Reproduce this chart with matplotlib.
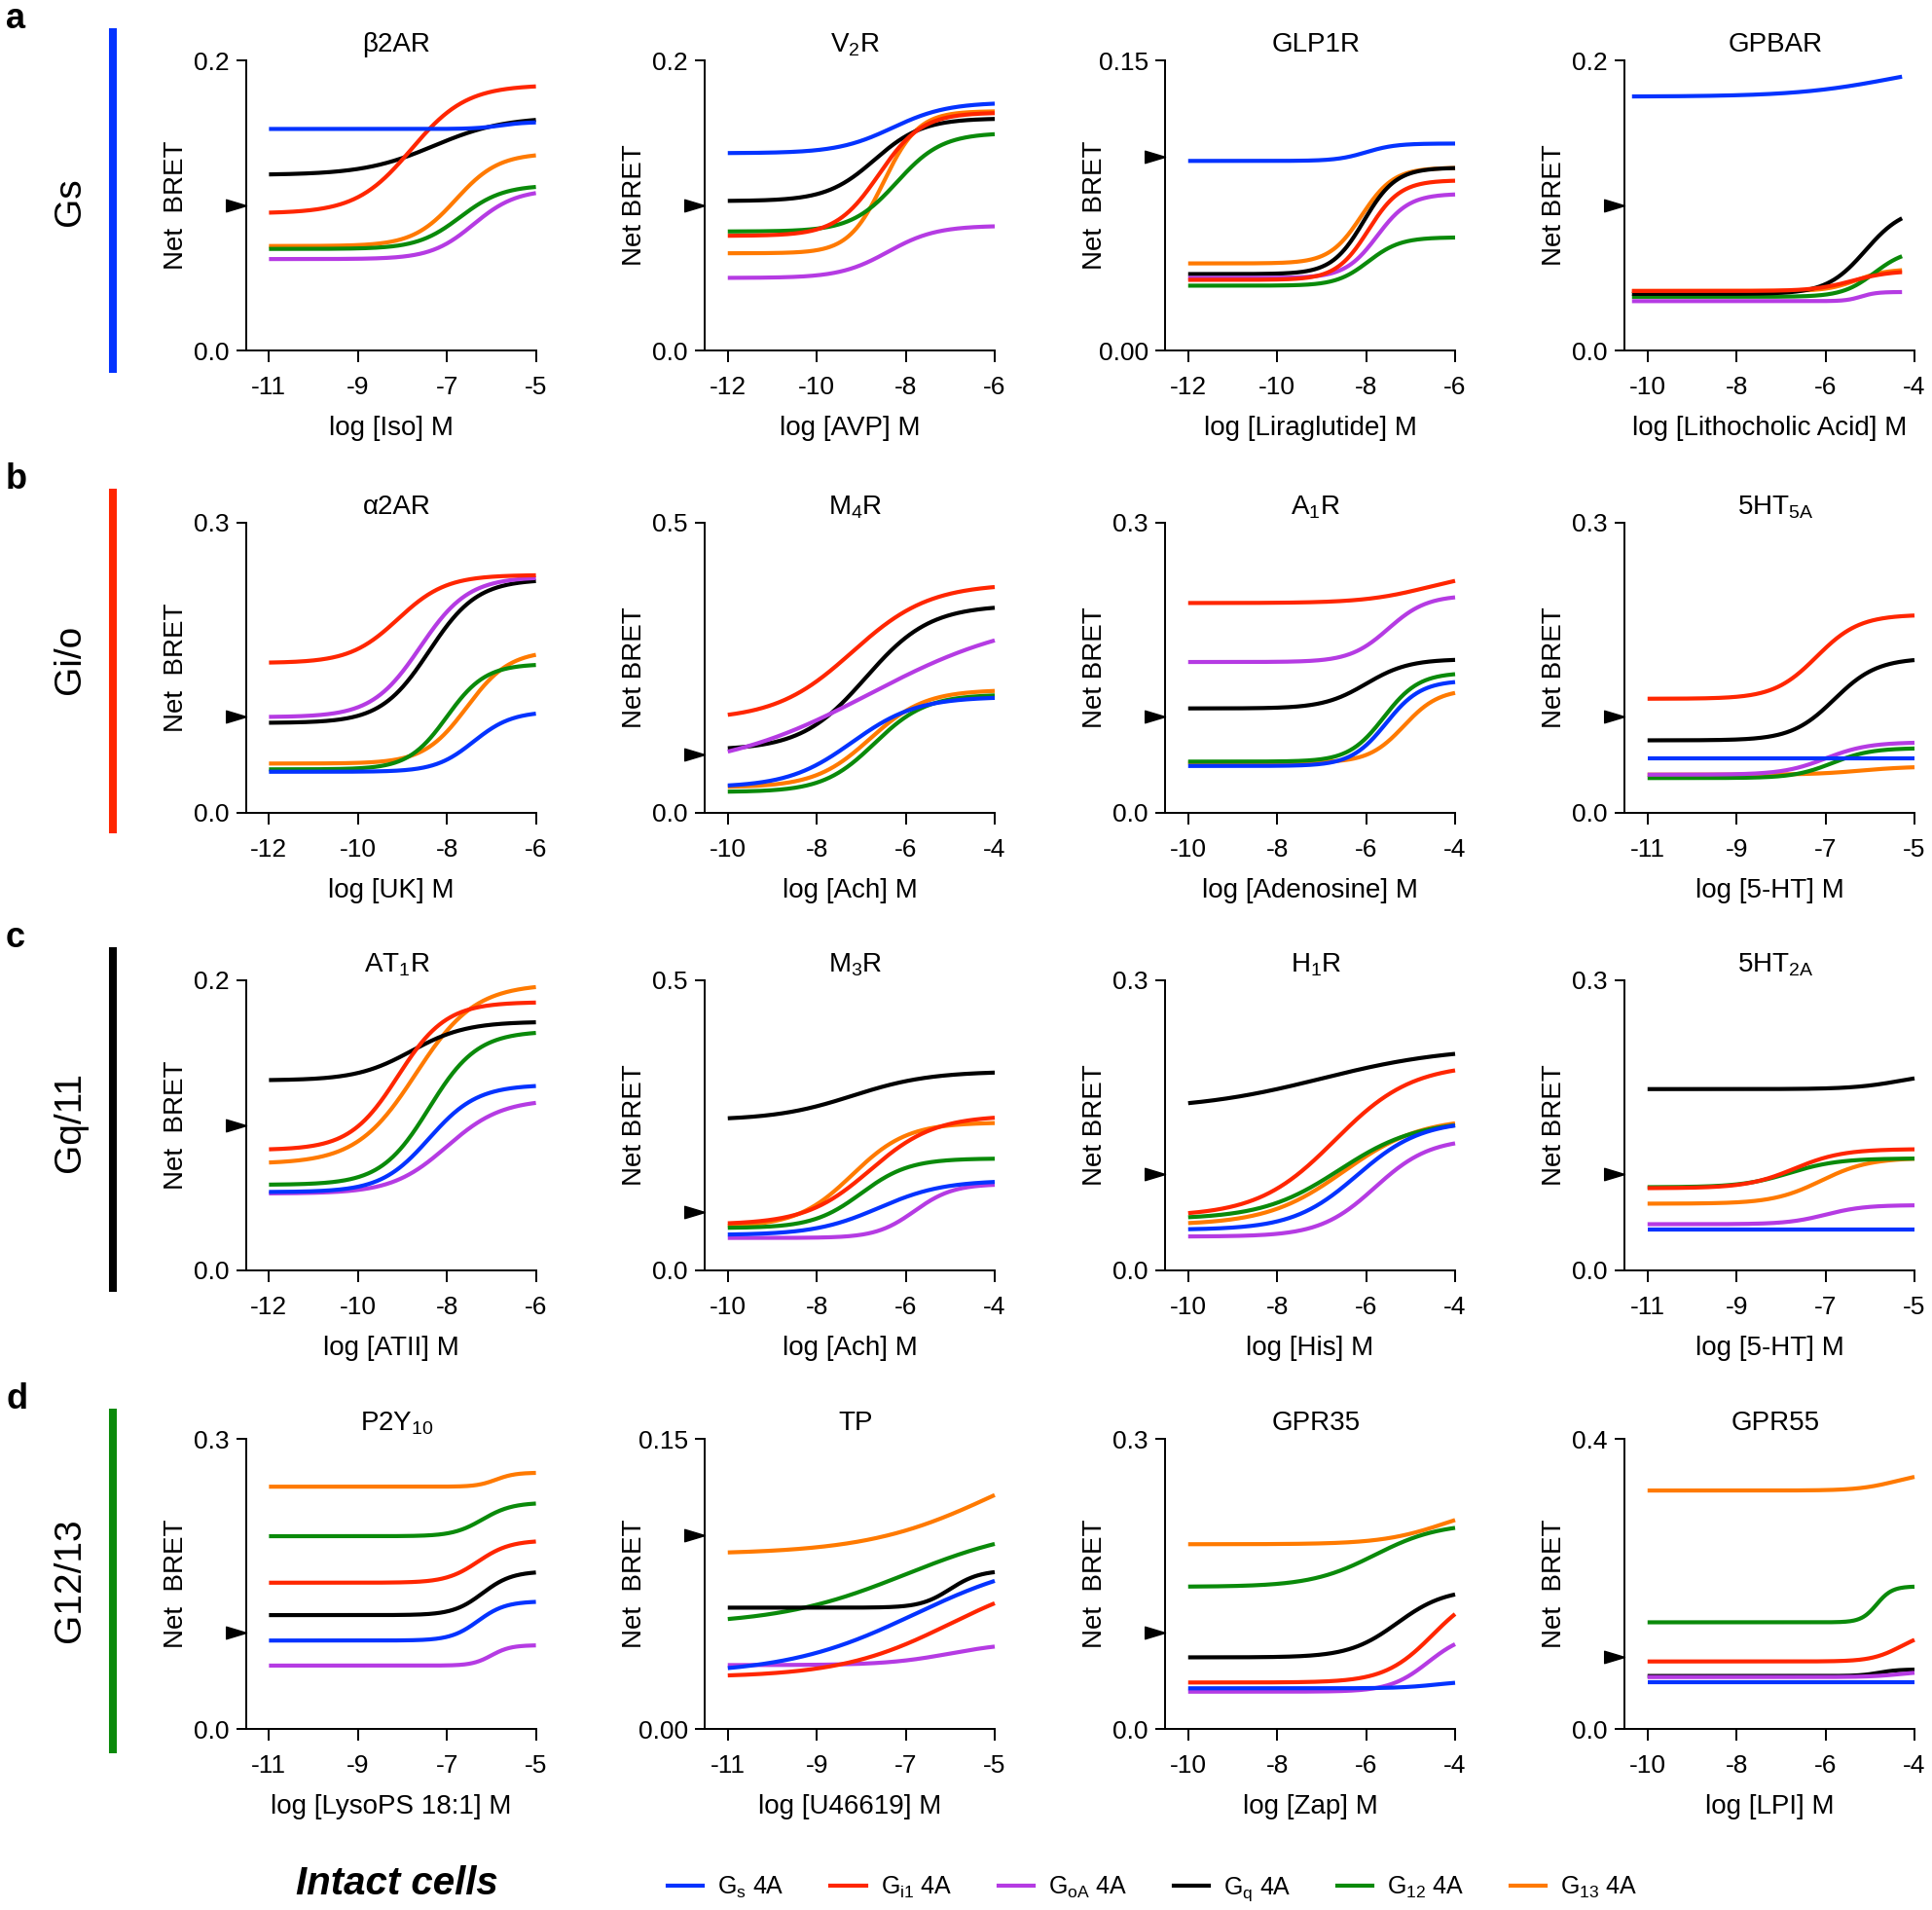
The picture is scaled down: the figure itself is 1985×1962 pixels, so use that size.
import numpy as np
import matplotlib.pyplot as plt
from matplotlib.path import Path
from matplotlib.lines import Line2D

plt.rcParams['font.family'] = ['Liberation Sans', 'DejaVu Sans']
plt.rcParams['mathtext.fontset'] = 'custom'
plt.rcParams['mathtext.rm'] = 'Liberation Sans'
plt.rcParams['mathtext.it'] = 'Liberation Sans:italic'
plt.rcParams['mathtext.bf'] = 'Liberation Sans:bold'
plt.rcParams['mathtext.default'] = 'regular'
plt.rcParams['axes.unicode_minus'] = False

# G protein sensors (legend order) and colours
SENSORS = [r'G$_{s}$ 4A', r'G$_{i1}$ 4A', r'G$_{oA}$ 4A', r'G$_{q}$ 4A', r'G$_{12}$ 4A', r'G$_{13}$ 4A']
COLORS = ['#0433FF', '#FF2600', '#B53BE3', '#000000', '#0A8A0A', '#FF7A00']

# fitted curves, one row per sensor: [bottom, top, logEC50, hill]
B2AR = [[0.1527, 0.1575, -5.8, 1.5], [0.0945, 0.183, -7.8, 0.7], [0.063, 0.111, -6.4, 0.9],
        [0.121, 0.161, -7.3, 0.55], [0.070, 0.114, -6.7, 0.9], [0.072, 0.136, -6.8, 0.9]]
V2R = [[0.136, 0.171, -8.3, 0.7], [0.079, 0.164, -8.6, 0.9], [0.050, 0.086, -8.4, 0.8],
       [0.103, 0.160, -8.7, 0.8], [0.082, 0.150, -8.2, 0.85], [0.067, 0.165, -8.5, 1.1]]
GLP1R = [[0.098, 0.107, -8.0, 1.3], [0.0365, 0.088, -7.95, 1.2], [0.0375, 0.081, -7.75, 1.2],
         [0.0395, 0.0945, -8.05, 1.2], [0.0335, 0.0585, -7.95, 1.2], [0.045, 0.0945, -8.1, 1.2]]
GPBAR = [[0.175, 0.200, -4.5, 0.4], [0.041, 0.055, -5.4, 1.0], [0.034, 0.0403, -5.2, 2.5],
         [0.039, 0.099, -5.1, 1.0], [0.037, 0.070, -4.9, 1.2], [0.041, 0.056, -5.3, 1.3]]
A2AR = [[0.0425, 0.105, -7.4, 1.0], [0.155, 0.246, -9.1, 0.8], [0.099, 0.244, -8.6, 0.8],
        [0.093, 0.2415, -8.4, 0.8], [0.045, 0.154, -8.0, 1.0], [0.051, 0.168, -7.55, 0.9]]
M4R = [[0.044, 0.200, -7.2, 0.6], [0.16, 0.395, -7.2, 0.5], [0.068, 0.343, -6.8, 0.25],
       [0.108, 0.358, -6.9, 0.6], [0.036, 0.204, -6.7, 0.75], [0.044, 0.212, -6.8, 0.7]]
A1R = [[0.0485, 0.137, -5.55, 1.1], [0.217, 0.25, -4.6, 0.6], [0.156, 0.225, -5.5, 1.0],
       [0.108, 0.159, -6.0, 0.9], [0.053, 0.145, -5.6, 1.1], [0.052, 0.128, -5.15, 1.1]]
HT5A = [[0.0563, 0.0563, -7.0, 1.0], [0.118, 0.205, -7.2, 0.9], [0.0395, 0.073, -7.0, 0.9],
        [0.075, 0.160, -6.8, 0.9], [0.036, 0.067, -6.85, 1.0], [0.0395, 0.048, -6.2, 0.8]]
AT1R = [[0.054, 0.128, -8.4, 0.8], [0.083, 0.185, -9.1, 0.8], [0.053, 0.118, -8.0, 0.7],
        [0.131, 0.1715, -8.8, 0.7], [0.059, 0.165, -8.4, 0.8], [0.0735, 0.1975, -8.7, 0.65]]
M3R = [[0.061, 0.155, -6.6, 0.6], [0.079, 0.267, -6.8, 0.6], [0.056, 0.149, -5.8, 1.0],
       [0.259, 0.343, -7.2, 0.5], [0.073, 0.193, -7.0, 0.8], [0.075, 0.255, -7.2, 0.7]]
H1R = [[0.042, 0.155, -6.2, 0.6], [0.0558, 0.2136, -6.7, 0.5], [0.035, 0.1367, -5.8, 0.7],
       [0.1656, 0.2313, -7.0, 0.3], [0.053, 0.155, -6.6, 0.5], [0.047, 0.158, -6.5, 0.5]]
HT2A = [[0.0426, 0.0426, -7.0, 1.0], [0.085, 0.1255, -7.7, 0.8], [0.0478, 0.0675, -7.0, 1.0],
        [0.1875, 0.205, -5.3, 0.8], [0.086, 0.1158, -7.8, 0.8], [0.069, 0.1165, -7.1, 0.8]]
P2Y10 = [[0.0914, 0.132, -6.3, 1.4], [0.1512, 0.195, -6.3, 1.2], [0.0655, 0.0866, -6.0, 2.0],
         [0.1177, 0.163, -6.2, 1.3], [0.1993, 0.234, -6.2, 1.3], [0.2505, 0.265, -5.9, 2.0]]
TP = [[0.0282, 0.0905, -6.8, 0.3], [0.0267, 0.0821, -6.0, 0.35], [0.033, 0.045, -6.0, 0.6],
      [0.0627, 0.082, -6.0, 1.3], [0.0537, 0.1062, -7.0, 0.3], [0.0903, 0.1516, -5.0, 0.3]]
GPR35 = [[0.042, 0.050, -4.4, 1.0], [0.048, 0.147, -4.5, 0.8], [0.0385, 0.100, -4.6, 1.0],
         [0.074, 0.145, -5.3, 0.8], [0.147, 0.213, -5.8, 0.6], [0.191, 0.235, -4.2, 0.6]]
GPR55 = [[0.065, 0.065, -6.0, 1.0], [0.093, 0.135, -4.3, 1.3], [0.0715, 0.080, -4.3, 1.2],
         [0.073, 0.082, -4.8, 2.0], [0.147, 0.1965, -4.85, 2.5], [0.3287, 0.355, -4.4, 1.0]]

PANELS = [B2AR, V2R, GLP1R, GPBAR, A2AR, M4R, A1R, HT5A,
          AT1R, M3R, H1R, HT2A, P2Y10, TP, GPR35, GPR55]
TITLES = ['β2AR', r'V$_{2}$R', 'GLP1R', 'GPBAR',
          'α2AR', r'M$_{4}$R', r'A$_{1}$R', r'5HT$_{5A}$',
          r'AT$_{1}$R', r'M$_{3}$R', r'H$_{1}$R', r'5HT$_{2A}$',
          r'P2Y$_{10}$', 'TP', 'GPR35', 'GPR55']
XLABELS = ['log [Iso] M', 'log [AVP] M', 'log [Liraglutide] M', 'log [Lithocholic Acid] M',
           'log [UK] M', 'log [Ach] M', 'log [Adenosine] M', 'log [5-HT] M',
           'log [ATII] M', 'log [Ach] M', 'log [His] M', 'log [5-HT] M',
           'log [LysoPS 18:1] M', 'log [U46619] M', 'log [Zap] M', 'log [LPI] M']
YLABELS = ['Net  BRET', 'Net BRET', 'Net  BRET', 'Net BRET',
           'Net  BRET', 'Net BRET', 'Net BRET', 'Net BRET',
           'Net  BRET', 'Net BRET', 'Net BRET', 'Net BRET',
           'Net  BRET', 'Net  BRET', 'Net  BRET', 'Net  BRET']
XTICKS = [[-11, -9, -7, -5], [-12, -10, -8, -6], [-12, -10, -8, -6], [-10, -8, -6, -4],
          [-12, -10, -8, -6], [-10, -8, -6, -4], [-10, -8, -6, -4], [-11, -9, -7, -5],
          [-12, -10, -8, -6], [-10, -8, -6, -4], [-10, -8, -6, -4], [-11, -9, -7, -5],
          [-11, -9, -7, -5], [-11, -9, -7, -5], [-10, -8, -6, -4], [-10, -8, -6, -4]]
YMAX = [0.2, 0.2, 0.15, 0.2, 0.3, 0.5, 0.3, 0.3, 0.2, 0.5, 0.3, 0.3, 0.3, 0.15, 0.3, 0.4]
# dose range of the fitted curves where it differs from the tick range
CURVE_RANGE = {3: (-10.35, -4.28)}
ARROW_Y = 0.1

ROW_NAMES = ['Gs', 'Gi/o', 'Gq/11', 'G12/13']
ROW_LETTERS = ['a', 'b', 'c', 'd']
ROW_COLORS = ['#0433FF', '#FF2600', '#000000', '#0A8A0A']

W, H = 1985, 1962
fig = plt.figure(figsize=(W / 100, H / 100), dpi=100)

col_x = [252.6, 724, 1197, 1669]
row_top = [62, 537, 1007, 1478]
size = 298

# arrowhead marker with its tip at the marker position
tri = Path([(-1, -0.3), (0, 0), (-1, 0.3), (-1, -0.3)],
           [Path.MOVETO, Path.LINETO, Path.LINETO, Path.CLOSEPOLY])

for i, curves in enumerate(PANELS):
    r, c = divmod(i, 4)
    ax = fig.add_axes([col_x[c] / W, 1 - (row_top[r] + size) / H, size / W, size / H])
    ticks = XTICKS[i]
    ymax = YMAX[i]
    lo, hi = CURVE_RANGE.get(i, (ticks[0], ticks[-1]))
    x = np.linspace(lo, hi, 300)
    for k in [5, 4, 3, 2, 1, 0]:
        b, t, ec, h = curves[k]
        y = b + (t - b) / (1 + 10 ** ((ec - x) * h))
        ax.plot(x, y, color=COLORS[k], lw=3.0, clip_on=False, solid_capstyle='butt')

    ax.plot([0], [ARROW_Y], transform=ax.get_yaxis_transform(), marker=tri, ms=30,
            color='k', ls='none', clip_on=False)

    ax.set_xlim(ticks[0] - 0.52, ticks[-1])
    ax.set_ylim(0, ymax)
    ax.set_xticks(ticks)
    ax.set_xticklabels([str(t) for t in ticks])
    dec = len(str(ymax).split('.')[1])
    ax.set_yticks([0, ymax])
    ax.set_yticklabels([f'{0:.{dec}f}', f'{ymax:.{dec}f}'])
    for s in ['top', 'right']:
        ax.spines[s].set_visible(False)
    for s in ['left', 'bottom']:
        ax.spines[s].set_linewidth(1.4)
    ax.tick_params(axis='x', length=8.5, width=1.4, pad=10, labelsize=19)
    ax.tick_params(axis='y', length=7, width=1.4, pad=5.5, labelsize=19)

    ax.text(0.52, 1.03, TITLES[i], transform=ax.transAxes, ha='center', va='baseline', fontsize=20)
    ax.set_xlabel(XLABELS[i], fontsize=20)
    ax.xaxis.set_label_coords(0.5, -0.225)
    ax.set_ylabel(YLABELS[i], fontsize=20)
    ax.yaxis.set_label_coords(-0.198, 0.5)

# row labels, coloured bars and panel letters
bar_top = [29, 502, 973, 1447]
name_y = [207, 677, 1152, 1623]
for r in range(4):
    fig.add_artist(Line2D([115.6 / W, 115.6 / W], [1 - bar_top[r] / H, 1 - (bar_top[r] + 354) / H],
                          transform=fig.transFigure, color=ROW_COLORS[r], lw=5.8,
                          solid_capstyle='butt'))
    fig.text(72 / W, 1 - name_y[r] / H, ROW_NAMES[r], rotation=90, ha='center', va='center',
             fontsize=28)
    fig.text(6 / W, 1 - bar_top[r] / H, ROW_LETTERS[r], ha='left', va='baseline',
             fontsize=26, fontweight='bold')

handles = [Line2D([], [], color=col, lw=3.0) for col in COLORS]
fig.legend(handles, SENSORS, loc='center', bbox_to_anchor=(0.5967, 1 - 1940 / H), ncol=6,
           frameon=False, fontsize=18, handlelength=1.45, handletextpad=0.6, columnspacing=1.9)
fig.text(408 / W, 1 - 1935 / H, 'Intact cells', ha='center', va='center', fontsize=29,
         fontweight='bold', fontstyle='italic')

fig.savefig('out.png', dpi=100)
